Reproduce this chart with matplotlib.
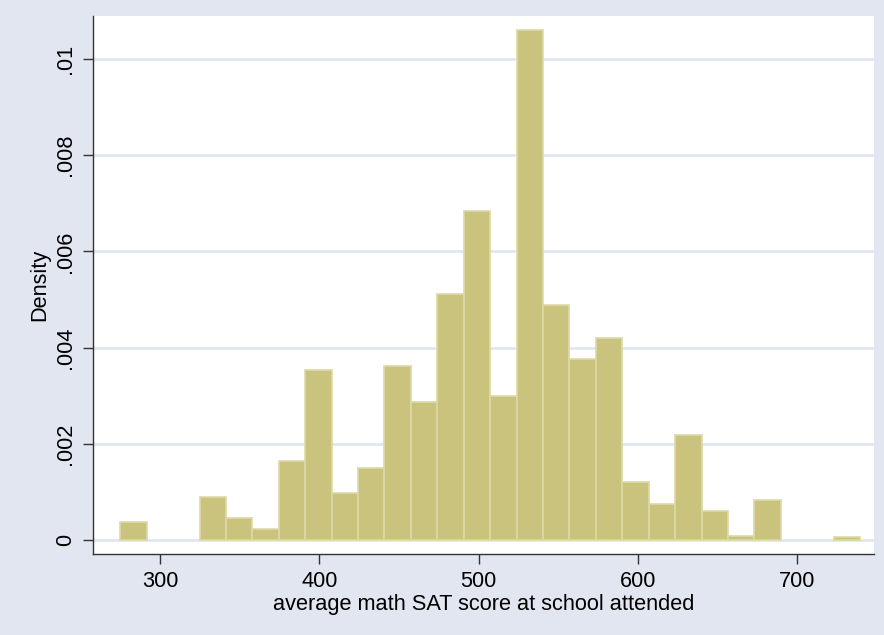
import matplotlib
matplotlib.use("Agg")
import matplotlib.pyplot as plt
import numpy as np

plt.rcParams['font.family'] = ['Liberation Sans', 'DejaVu Sans']

# Histogram data (Stata-style: 28 bins from min to max)
bin_start = 275.0
bin_width = 16.585
density = [0.00037, 0.0, 0.0, 0.00089, 0.00045, 0.00022, 0.00165, 0.00353,
           0.00097, 0.00150, 0.00362, 0.00286, 0.00511, 0.00684, 0.00300,
           0.01061, 0.00489, 0.00376, 0.00421, 0.00120, 0.00075, 0.00218,
           0.00060, 0.00008, 0.00083, 0.0, 0.0, 0.00007]
xticks = [300, 400, 500, 600, 700]
yticks = [0, 0.002, 0.004, 0.006, 0.008, 0.01]
ytick_labels = ["0", ".002", ".004", ".006", ".008", ".01"]
xlabel = "average math SAT score at school attended"
ylabel = "Density"

bg = '#E1E6F0'
fill = '#C9C37E'
edge = '#DDD9A8'
fs = 15.7

fig = plt.figure(figsize=(8.84, 6.35), dpi=100, facecolor=bg)
ax = fig.add_axes([93/884, (635-554)/635, (874-93)/884, (554-16)/635])
ax.set_facecolor('white')

dens = np.array(density)
left_edges = bin_start + bin_width * np.arange(len(dens))
mask = dens > 0
ax.bar(left_edges[mask], dens[mask], width=bin_width, align='edge',
       color=fill, edgecolor=edge, linewidth=1.2, zorder=3)

ax.set_xlim(257.9, 748.1)
ax.set_ylim(-0.000291, 0.010894)

ax.set_xticks(xticks)
ax.set_xticklabels([str(t) for t in xticks], fontsize=fs)
ax.set_yticks(yticks)
ax.set_yticklabels(ytick_labels, fontsize=fs, rotation=90, va='center')

ax.grid(axis='y', color='#DFE4EF', linewidth=1.8, zorder=0)
ax.set_axisbelow(True)

for s in ['top', 'right']:
    ax.spines[s].set_visible(False)
for s in ['left', 'bottom']:
    ax.spines[s].set_color('#333333')
    ax.spines[s].set_linewidth(1.0)

ax.tick_params(axis='both', direction='out', length=7.5, width=1.0,
               color='#333333', labelcolor='black')
ax.tick_params(axis='x', pad=5)
ax.tick_params(axis='y', pad=5)

ax.set_xlabel(xlabel, fontsize=fs, labelpad=1)
ax.set_ylabel(ylabel, fontsize=fs, labelpad=3)

fig.savefig('out.png', dpi=100, facecolor=bg)
